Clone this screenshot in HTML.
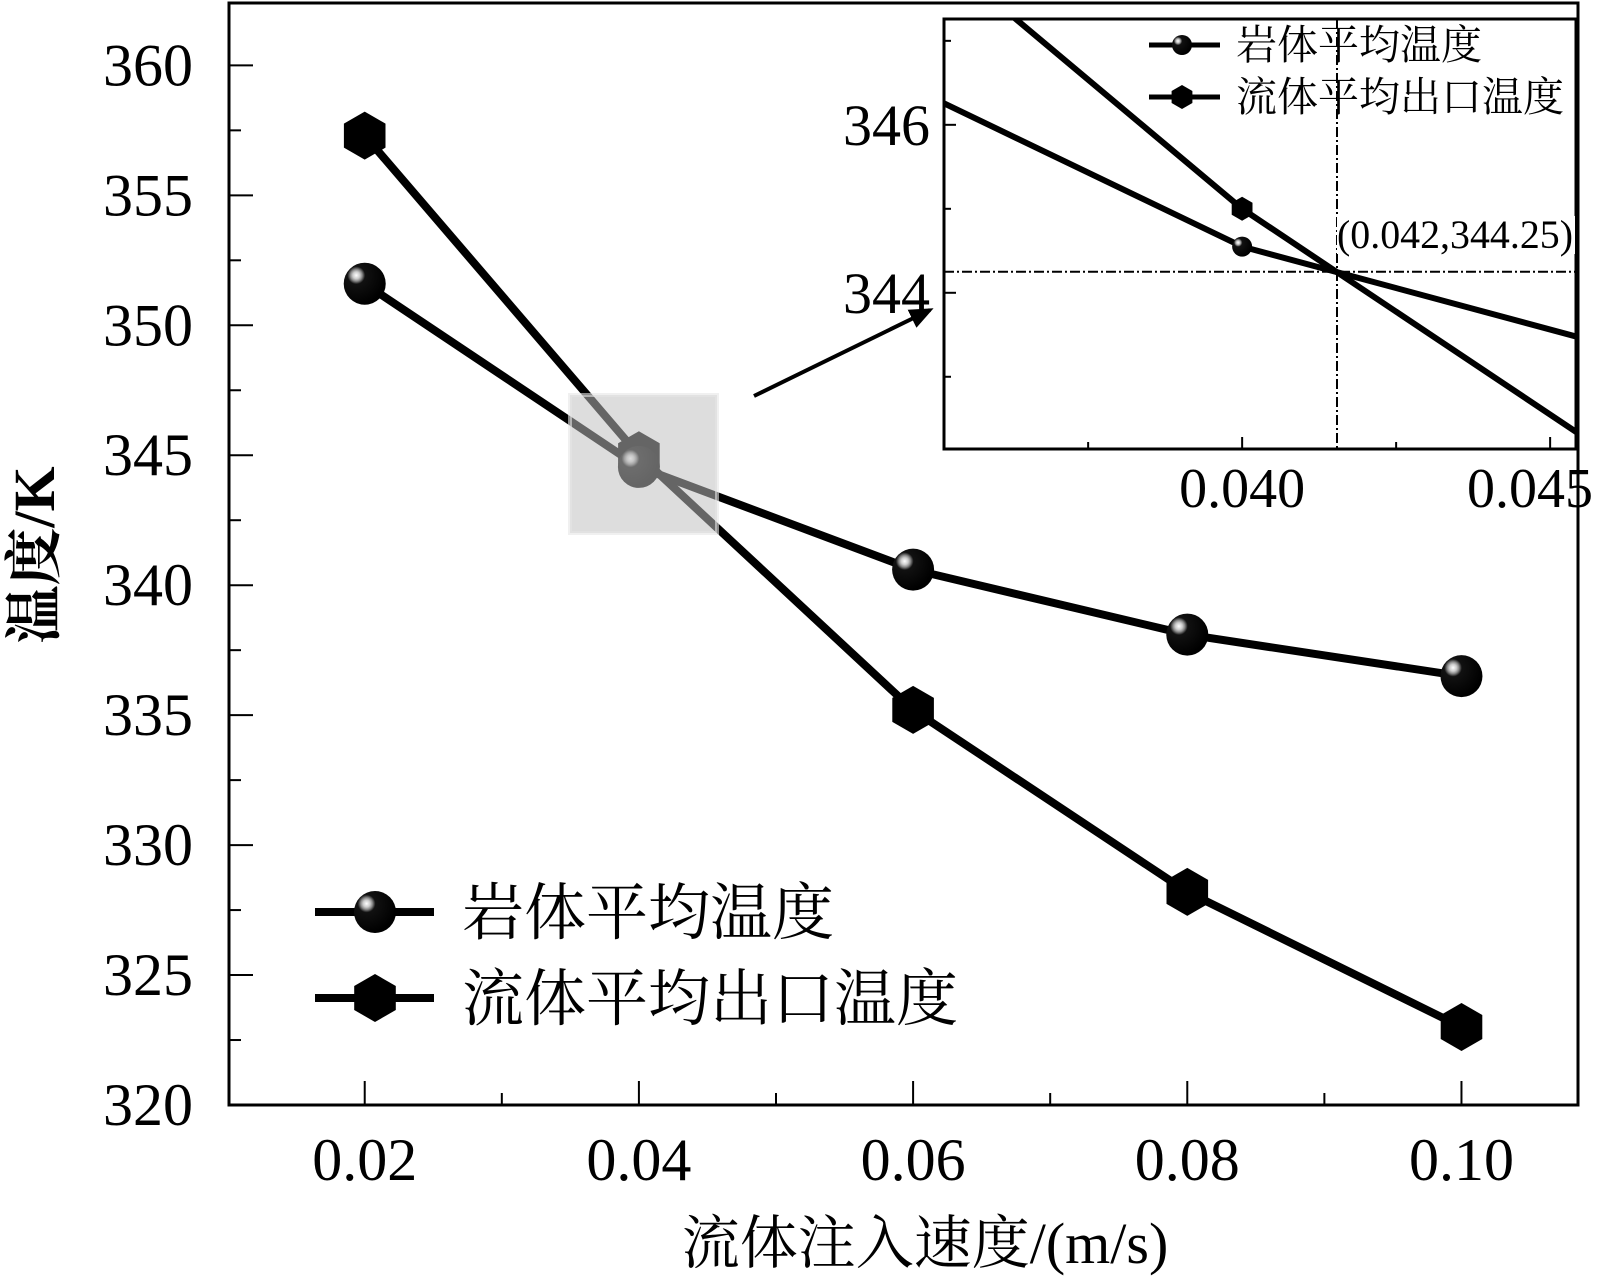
<!DOCTYPE html>
<html><head><meta charset="utf-8"><style>
html,body{margin:0;padding:0;background:#fff;width:1601px;height:1285px;overflow:hidden;}
svg{display:block;}
.num{font-family:"Liberation Serif",serif;}
.cjk{font-family:"Liberation Serif","Noto Serif CJK SC",serif;}
</style></head><body>
<svg id="chart" xmlns="http://www.w3.org/2000/svg" width="1601" height="1285" viewBox="0 0 1601 1285">
<defs>
<radialGradient id="sph" cx="0.3" cy="0.3" r="0.7">
<stop offset="0" stop-color="#fff"/><stop offset="0.12" stop-color="#ccc"/><stop offset="0.2" stop-color="#888"/><stop offset="0.3" stop-color="#111"/><stop offset="1" stop-color="#000"/>
</radialGradient>
<clipPath id="insetClip"><rect x="944" y="19" width="632" height="430"/></clipPath>
<marker id="arrowHead" markerWidth="6" markerHeight="5" refX="5" refY="2.5" orient="auto" markerUnits="strokeWidth"><path d="M0,0 L6,2.5 L0,5 z" fill="#000"/></marker>
</defs>
<g id="main"></g>
<g id="inset"></g>
</svg>
<script>
const xVals=[0.02,0.04,0.06,0.08,0.10];
const rockTemp=[351.6,344.55,340.6,338.1,336.5];
const fluidTemp=[357.3,345.0,335.2,328.2,323.0];
const xTickLabels=["0.02","0.04","0.06","0.08","0.10"];
const yTickVals=[320,325,330,335,340,345,350,355,360];
const insetYTicks=[344,346];
const insetXTicks=[0.040,0.045];
const crossPoint=[0.04154,344.25];
const crossLabel="(0.042,344.25)";
const legendNames=["岩体平均温度","流体平均出口温度"];

const NS="http://www.w3.org/2000/svg";
function mk(tag,attrs,parent,text){const e=document.createElementNS(NS,tag);for(const k in attrs)e.setAttribute(k,attrs[k]);if(text!==undefined)e.textContent=text;parent.appendChild(e);return e;}
const main=document.getElementById('main');
const inset=document.getElementById('inset');

const L=229,R=1578,T=3,B=1105;
const xMin=0.0101,xMax=0.1085,yMin=320,yMax=362.4;
const sx=v=>L+(v-xMin)/(xMax-xMin)*(R-L);
const sy=v=>B-(v-yMin)/(yMax-yMin)*(B-T);

function hexPts(cx,cy,r){let p=[];for(let i=0;i<6;i++){const a=Math.PI/180*(60*i-90);p.push((cx+r*Math.cos(a)).toFixed(1)+","+(cy+r*Math.sin(a)).toFixed(1));}return p.join(" ");}

let e;
e=mk('rect',{x:L,y:T,width:R-L,height:B-T,fill:'none',stroke:'#000','stroke-width':3},main);


yTickVals.forEach(v=>{
 e=mk('line',{x1:L,x2:L+24,y1:sy(v),y2:sy(v),stroke:'#000','stroke-width':2},main);
 
 e=mk('text',{x:193,y:sy(v)+20,'text-anchor':'end','font-size':60,class:'num'},main,String(v));
 
 const m=v+2.5;
 if(m<yMax){e=mk('line',{x1:L,x2:L+12,y1:sy(m),y2:sy(m),stroke:'#000','stroke-width':2},main);
 }
});
xVals.forEach((v,i)=>{
 e=mk('line',{x1:sx(v),x2:sx(v),y1:B,y2:B-24,stroke:'#000','stroke-width':2},main);
 
 e=mk('text',{x:sx(v),y:1180,'text-anchor':'middle','font-size':60,class:'num'},main,xTickLabels[i]);
 
 const m=v+0.01;
 if(m<xMax){e=mk('line',{x1:sx(m),x2:sx(m),y1:B,y2:B-12,stroke:'#000','stroke-width':2},main);
 }
});
e=mk('text',{x:925,y:1263,'text-anchor':'middle','font-size':58,class:'cjk'},main,"流体注入速度/(m/s)");

e=mk('text',{x:0,y:0,'text-anchor':'middle','font-size':58,'font-weight':'bold',class:'cjk',transform:'translate(54,555) rotate(-90)'},main,"温度/K");


function series(vals,type,name){
 const pts=xVals.map((x,i)=>sx(x)+","+sy(vals[i])).join(" ");
 e=mk('polyline',{points:pts,fill:'none',stroke:'#000','stroke-width':8},main);
 
 xVals.forEach((x,i)=>{
  if(type==='hex'){e=mk('polygon',{points:hexPts(sx(x),sy(vals[i]),24),fill:'#000'},main);}
  else{e=mk('circle',{cx:sx(x),cy:sy(vals[i]),r:21,fill:'url(#sph)'},main);}
  
 });
}
series(fluidTemp,'hex','fluid-outlet-temp');
series(rockTemp,'circ','rock-avg-temp');

e=mk('rect',{x:570,y:395,width:147,height:138,fill:'rgba(191,191,191,0.53)',stroke:'rgba(230,230,230,0.6)','stroke-width':4},main);

e=mk('line',{x1:754,y1:396,x2:930,y2:310,stroke:'#000','stroke-width':4,'marker-end':'url(#arrowHead)'},main);


[[912,'circ'],[998,'hex']].forEach((r,i)=>{
 e=mk('line',{x1:315,x2:434,y1:r[0],y2:r[0],stroke:'#000','stroke-width':8},main);
 
 if(r[1]==='hex')e=mk('polygon',{points:hexPts(375,r[0],24),fill:'#000'},main);
 else e=mk('circle',{cx:375,cy:r[0],r:21,fill:'url(#sph)'},main);
 
 e=mk('text',{x:462,y:r[0]+22,'font-size':62,class:'cjk'},main,legendNames[i]);
 
});

const iL=944,iR=1576,iT=19,iB=449;
const ixMin=0.03516,ixMax=0.04542,iyMin=342.14,iyMax=347.26;
const ix=v=>iL+(v-ixMin)/(ixMax-ixMin)*(iR-iL);
const iy=v=>iB-(v-iyMin)/(iyMax-iyMin)*(iB-iT);
e=mk('rect',{x:iL,y:iT,width:iR-iL,height:iB-iT,fill:'#fff',stroke:'#000','stroke-width':3},inset);

insetYTicks.forEach(v=>{
 e=mk('line',{x1:iL,x2:iL+12,y1:iy(v),y2:iy(v),stroke:'#000','stroke-width':2},inset);
 
 e=mk('text',{x:930,y:iy(v)+20,'text-anchor':'end','font-size':58,class:'num'},inset,String(v));
 
});
[343,345,347].forEach(v=>{e=mk('line',{x1:iL,x2:iL+7,y1:iy(v),y2:iy(v),stroke:'#000','stroke-width':2},inset);
 });
insetXTicks.forEach((v,i)=>{
 e=mk('line',{x1:ix(v),x2:ix(v),y1:iB,y2:iB-12,stroke:'#000','stroke-width':2},inset);
 
 const last=i===insetXTicks.length-1;
 e=mk('text',{x:last?1593:ix(v),y:507,'text-anchor':last?'end':'middle','font-size':56,class:'num'},inset,v.toFixed(3));
 
});
[0.0375,0.0425].forEach(v=>{e=mk('line',{x1:ix(v),x2:ix(v),y1:iB,y2:iB-7,stroke:'#000','stroke-width':2},inset);
 });
const ig=mk('g',{'clip-path':'url(#insetClip)'},inset);
e=mk('line',{x1:iL,x2:iR,y1:iy(crossPoint[1]),y2:iy(crossPoint[1]),stroke:'#000','stroke-width':2,'stroke-dasharray':'10,3,2,3'},ig);

e=mk('line',{x1:ix(crossPoint[0]),x2:ix(crossPoint[0]),y1:iT,y2:iB,stroke:'#000','stroke-width':2,'stroke-dasharray':'10,3,2,3'},ig);

[[fluidTemp,'hex','inset-fluid'],[rockTemp,'circ','inset-rock']].forEach(s=>{
 const pts=xVals.map((x,i)=>ix(x)+","+iy(s[0][i])).join(" ");
 e=mk('polyline',{points:pts,fill:'none',stroke:'#000','stroke-width':6},ig);
 
 xVals.forEach((x,i)=>{const cx=ix(x),cy=iy(s[0][i]);
  if(cx<iL||cx>iR||cy<iT||cy>iB)return;
  if(s[1]==='hex')e=mk('polygon',{points:hexPts(cx,cy,12),fill:'#000'},ig);
  else e=mk('circle',{cx:cx,cy:cy,r:10,fill:'url(#sph)'},ig);
  
 });
});
e=mk('rect',{x:1337,y:216,width:238,height:38,fill:'#fff'},inset);

e=mk('text',{x:1337,y:248,'font-size':40,class:'num',textLength:236,lengthAdjust:'spacingAndGlyphs'},inset,crossLabel);

[[45,'circ'],[97,'hex']].forEach((r,i)=>{
 e=mk('line',{x1:1149,x2:1220,y1:r[0],y2:r[0],stroke:'#000','stroke-width':5},inset);
 
 if(r[1]==='hex')e=mk('polygon',{points:hexPts(1182,r[0],12),fill:'#000'},inset);
 else e=mk('circle',{cx:1182,cy:r[0],r:10,fill:'url(#sph)'},inset);
 
 e=mk('text',{x:1236,y:r[0]+14,'font-size':41,class:'cjk'},inset,legendNames[i]);
 
});
</script>
</body></html>
